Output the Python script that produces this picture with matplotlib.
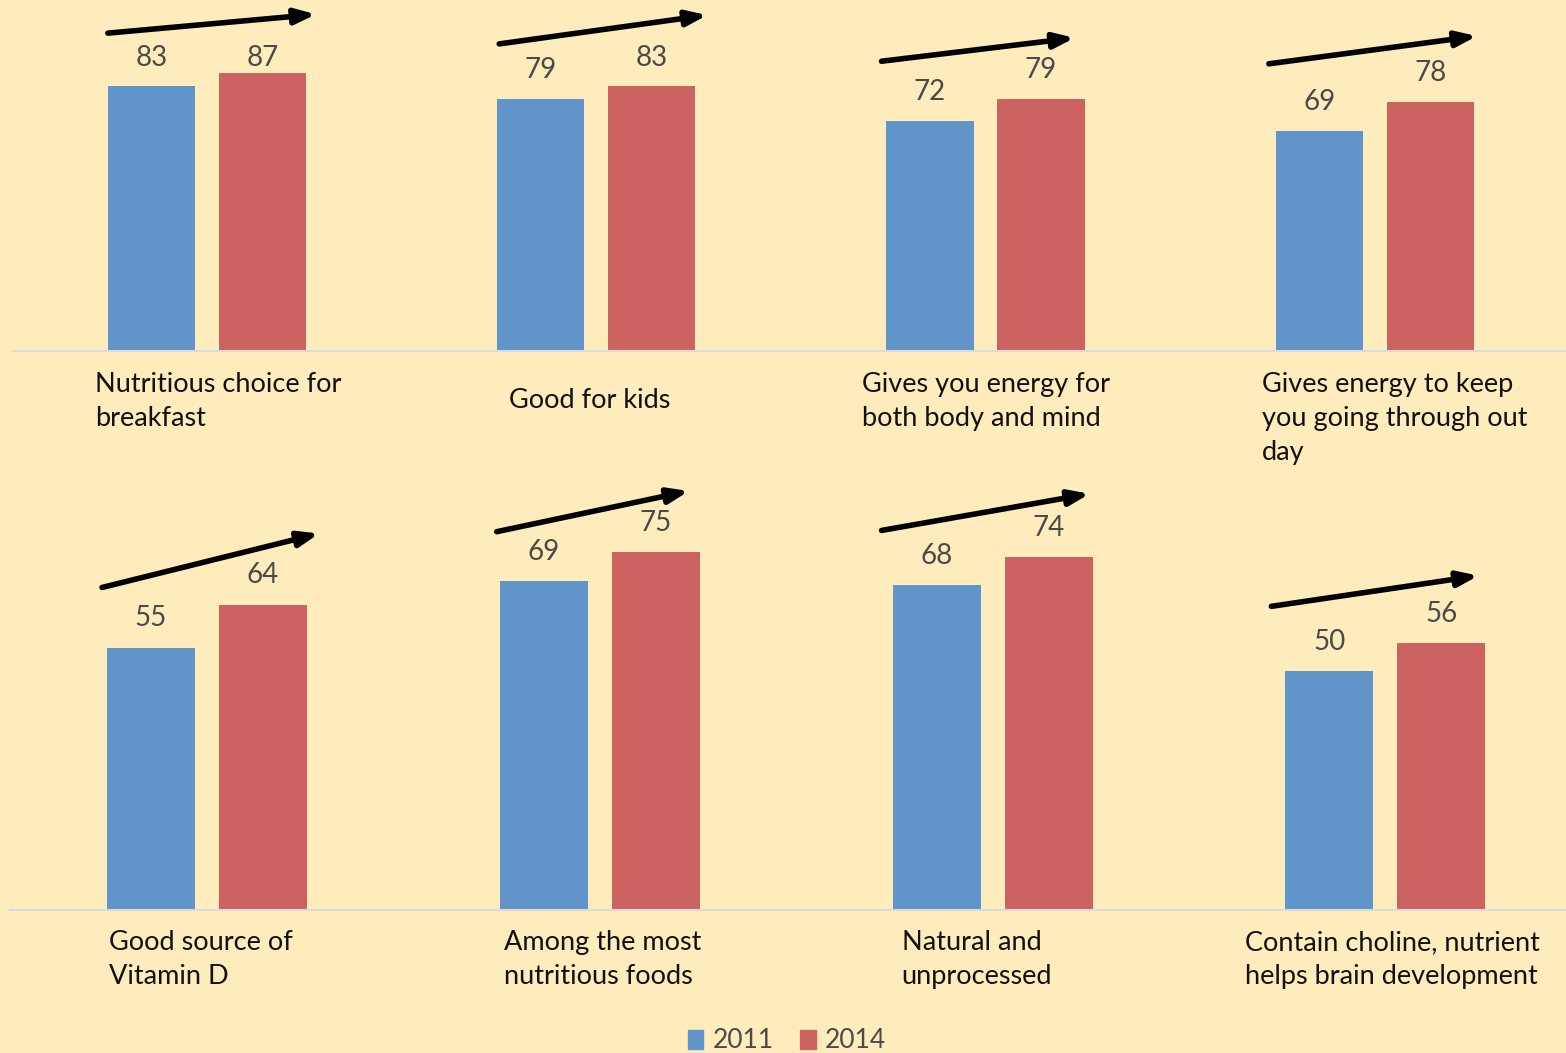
import numpy as np
import matplotlib
matplotlib.use('Agg')
import matplotlib.pyplot as plt

plt.rcParams['font.family'] = ['Lato', 'DejaVu Sans']

# data
top_labels = ["Nutritious choice for\nbreakfast", "Good for kids",
              "Gives you energy for\nboth body and mind",
              "Gives energy to keep\nyou going through out\nday"]
top_2011 = [83, 79, 72, 69]
top_2014 = [87, 83, 79, 78]

bottom_labels = ["Good source of\nVitamin D", "Among the most\nnutritious foods",
                 "Natural and\nunprocessed",
                 "Contain choline, nutrient\nhelps brain development"]
bottom_2011 = [55, 69, 68, 50]
bottom_2014 = [64, 75, 74, 56]

years = ["2011", "2014"]

# style
bg = '#FEECBC'
blue = '#6194C8'
red = '#CC6360'
val_color = '#4A4A4A'
lab_color = '#111111'
W, H = 1566, 1053

fig = plt.figure(figsize=(W / 100, H / 100), dpi=100, facecolor=bg)


def draw_row(ax, labels, v1, v2, xlim, ylim, px_x, px_y, label_dx, label_dy, label_cap, arrow_x, arrow_dy):
    # px_x / px_y: pixels per data unit, used to place the decorations
    ax.set_facecolor(bg)
    x = np.arange(len(labels))
    w = 0.224
    off = 0.1426
    ax.bar(x - off, v1, w, color=blue, zorder=2)
    ax.bar(x + off, v2, w, color=red, zorder=2)
    ax.set_xlim(*xlim)
    ax.set_ylim(*ylim)
    for s in ['top', 'right', 'left']:
        ax.spines[s].set_visible(False)
    ax.spines['bottom'].set_color('#D8DCE2')
    ax.spines['bottom'].set_linewidth(1.5)
    ax.set_xticks([])
    ax.set_yticks([])
    ax.patch.set_alpha(0)
    for i in range(len(labels)):
        for xx, v in ((x[i] - off, v1[i]), (x[i] + off, v2[i])):
            ax.annotate(str(v), (xx, min(v, label_cap)), xytext=(0, 21), textcoords='offset points',
                        ha='center', va='center', fontsize=20, color=val_color)
        ax.annotate(labels[i], (x[i] + label_dx[i] / px_x, 0), xytext=(0, -label_dy[i]),
                    textcoords='offset points', ha='left', va='top', fontsize=19.5,
                    color=lab_color, linespacing=1.45, annotation_clip=False)
        x0, x1 = arrow_x[i]
        d0, d1 = arrow_dy[i]
        ax.annotate('', xy=(x[i] + x1 / px_x, v2[i] + d1 / px_y),
                    xytext=(x[i] + x0 / px_x, v1[i] + d0 / px_y),
                    arrowprops=dict(arrowstyle='-|>,head_length=1.2,head_width=0.45',
                                    color='black', lw=4, shrinkA=0, shrinkB=0),
                    annotation_clip=False)


ax1 = fig.add_axes([13 / W, 1 - 351 / H, 1553 / W, 351 / H])
draw_row(ax1, top_labels, top_2011, top_2014, (-0.498, 3.491), (0, 110), 389.3, 3.19,
         [-112, -87, -124, -113], [15, 27, 15, 15], 82.8,
         [(-99, 109), (-97, 111), (-104, 89), (-106, 102)],
         [(53, 59), (55, 71), (60, 61), (67, 66)])

ax2 = fig.add_axes([10 / W, 1 - 910 / H, 1556 / W, 430 / H])
draw_row(ax2, bottom_labels, bottom_2011, bottom_2014, (-0.5017, 3.460), (0, 90.1), 392.7, 4.77,
         [-98, -96, -91, -140], [14.5, 14.5, 14.5, 14.5], 100,
         [(-105, 112), (-103, 89), (-111, 97), (-114, 93)],
         [(60, 71), (49, 61), (55, 63), (65, 67)])

# legend
handles = [plt.Rectangle((0, 0), 1, 1, color=c) for c in (blue, red)]
leg = fig.legend(handles, years, loc='center', bbox_to_anchor=(787 / W, 1 - 1041 / H),
                 ncol=2, frameon=False, fontsize=19, handlelength=0.6, handleheight=0.75,
                 handletextpad=0.35, columnspacing=1.0, labelcolor=val_color)

fig.savefig('out.png', dpi=100, facecolor=bg)
